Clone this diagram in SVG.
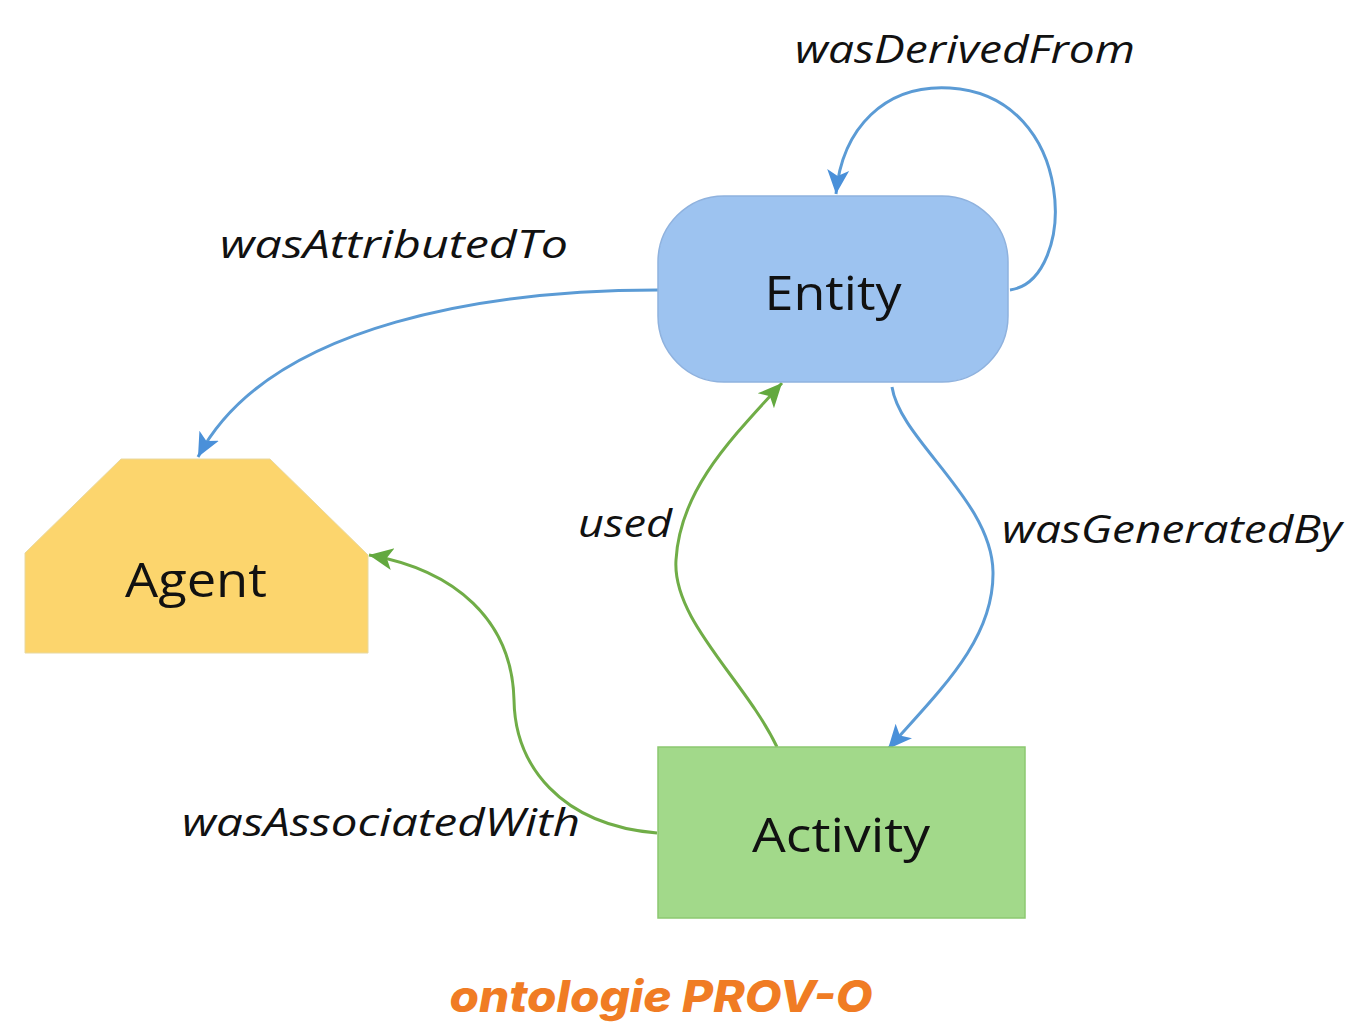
<svg xmlns="http://www.w3.org/2000/svg" width="1352" height="1022" viewBox="0 0 1352 1022">
<style>
.lbl{font-family:"Open Sans","Noto Sans",sans-serif;font-style:italic;font-size:38px;fill:#111}
.nt{font-family:"Open Sans","Noto Sans",sans-serif;font-size:48px;fill:#111;text-anchor:middle}
.cb{fill:none;stroke:#5b9bd5;stroke-width:3}
.cg{fill:none;stroke:#70ad47;stroke-width:3}
.title{font-family:"Inter","Open Sans",sans-serif;font-weight:800;font-style:italic;font-size:44px;fill:#f07c24;text-anchor:middle}
</style>
<defs>
<marker id="ab" markerUnits="userSpaceOnUse" markerWidth="26" markerHeight="24" refX="24" refY="11" orient="auto" viewBox="0 0 26 22">
<path d="M0,0 L24,11 L0,22 L6,11 Z" fill="#4a90d9"/>
</marker>
<marker id="ag" markerUnits="userSpaceOnUse" markerWidth="26" markerHeight="24" refX="24" refY="11" orient="auto" viewBox="0 0 26 22">
<path d="M0,0 L24,11 L0,22 L6,11 Z" fill="#63a93f"/>
</marker>
</defs>
<rect width="1352" height="1022" fill="#fff"/>
<g id="connectors">
<path id="wasDerivedFrom" class="cb" d="M1010,290 C1078,280 1078,96 950,88 C885,84 842,128 836,194" marker-end="url(#ab)"/>
<path id="wasAttributedTo" class="cb" d="M658,290 C500,290 270,320 198,457" marker-end="url(#ab)"/>
<path id="used" class="cg" d="M777,747 C745,680 672,620 676,560 C680,490 730,440 782,383" marker-end="url(#ag)"/>
<path id="wasGeneratedBy" class="cb" d="M892,387 C900,440 992,500 993,572 C994,640 940,690 888,749" marker-end="url(#ab)"/>
<path id="wasAssociatedWith" class="cg" d="M657,833 C560,825 515,765 514,700 C512,620 455,570 369,555" marker-end="url(#ag)"/>
</g>
<g id="entity">
<rect x="658" y="196" width="350" height="186" rx="66" ry="66" fill="#9dc3f0" stroke="#8fb2de" stroke-width="1.5"/>
<text class="nt" x="833" y="310" textLength="137" lengthAdjust="spacingAndGlyphs">Entity</text>
</g>
<g id="agent">
<polygon points="121,459 270,459 368,555 368,653 25,653 25,553" fill="#fcd56d" stroke="#e8d8a0" stroke-width="1"/>
<text class="nt" x="196" y="597" textLength="142" lengthAdjust="spacingAndGlyphs">Agent</text>
</g>
<g id="activity">
<rect x="658" y="747" width="367" height="171" fill="#a2d98a" stroke="#8cc870" stroke-width="1.5"/>
<text class="nt" x="841" y="852" textLength="178" lengthAdjust="spacingAndGlyphs">Activity</text>
</g>
<g id="labels">
<text class="lbl" x="795" y="63" textLength="340" lengthAdjust="spacingAndGlyphs">wasDerivedFrom</text>
<text class="lbl" x="220" y="258" textLength="348" lengthAdjust="spacingAndGlyphs">wasAttributedTo</text>
<text class="lbl" x="578" y="537" textLength="94" lengthAdjust="spacingAndGlyphs">used</text>
<text class="lbl" x="1002" y="543" textLength="340" lengthAdjust="spacingAndGlyphs">wasGeneratedBy</text>
<text class="lbl" x="182" y="836" textLength="398" lengthAdjust="spacingAndGlyphs">wasAssociatedWith</text>
</g>
<text class="title" x="661" y="1012" textLength="423" lengthAdjust="spacingAndGlyphs">ontologie PROV-O</text>
</svg>
